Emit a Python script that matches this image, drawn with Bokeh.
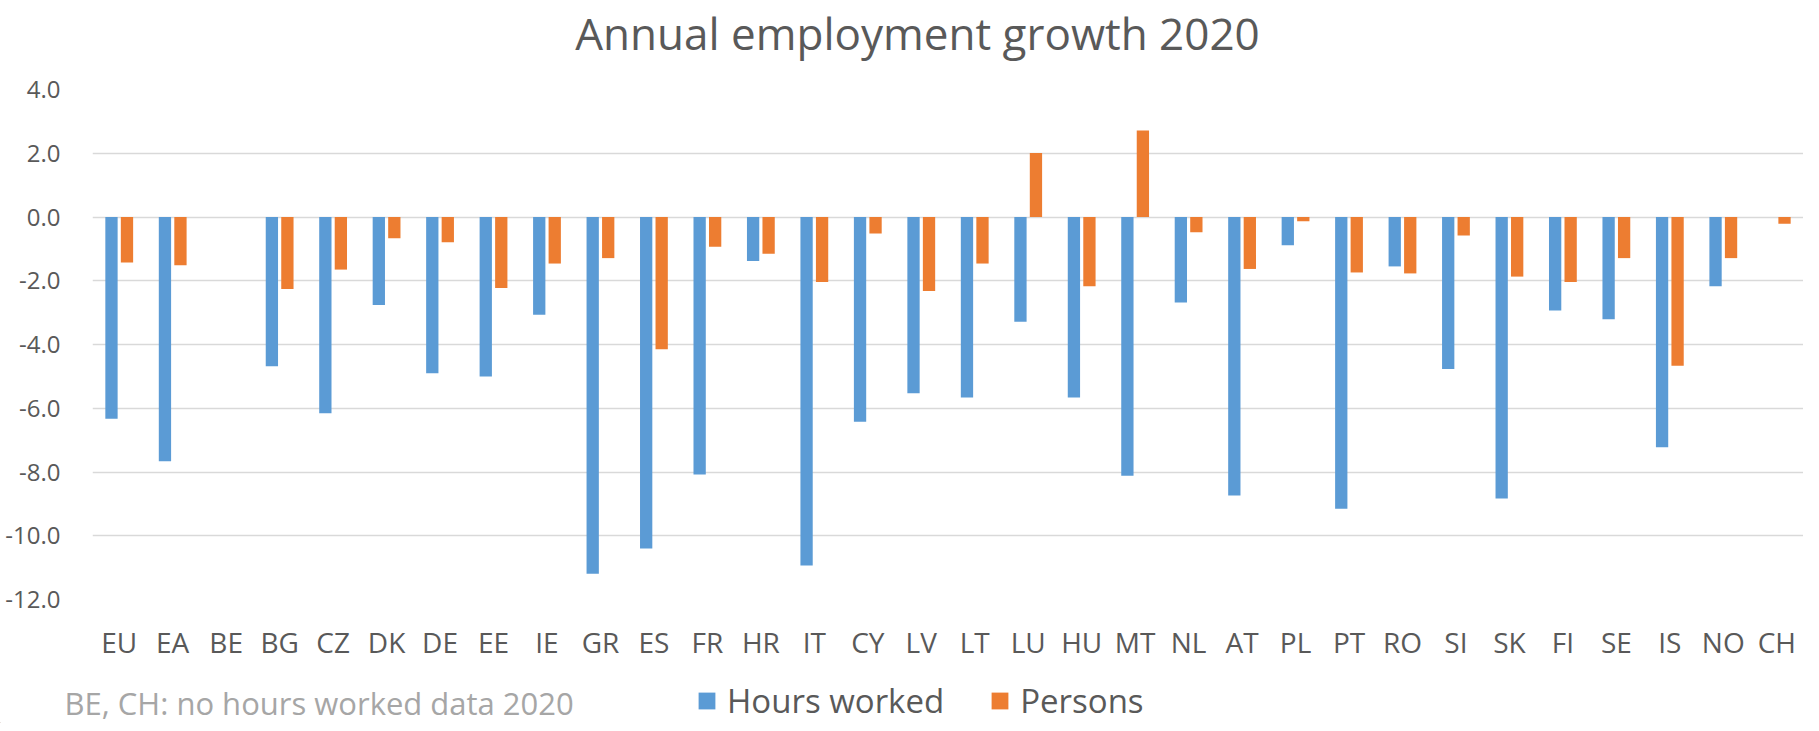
from bokeh.plotting import figure
from bokeh.layouts import column
from bokeh.models import (ColumnDataSource, FactorRange, Range1d, FixedTicker,
                          NumeralTickFormatter, Legend, Label)
from bokeh.transform import dodge
from bokeh.embed import file_html
from bokeh.resources import INLINE

nan = float("nan")

countries = ["EU", "EA", "BE", "BG", "CZ", "DK", "DE", "EE", "IE", "GR", "ES",
             "FR", "HR", "IT", "CY", "LV", "LT", "LU", "HU", "MT", "NL", "AT",
             "PL", "PT", "RO", "SI", "SK", "FI", "SE", "IS", "NO", "CH"]
hours_worked = [-6.33, -7.66, nan, -4.68, -6.16, -2.76, -4.90, -5.00, -3.07,
                -11.19, -10.40, -8.08, -1.38, -10.93, -6.42, -5.53, -5.66,
                -3.29, -5.66, -8.12, -2.68, -8.74, -0.89, -9.15, -1.55, -4.77,
                -8.83, -2.93, -3.21, -7.22, -2.17, nan]
persons = [-1.43, -1.51, nan, -2.26, -1.65, -0.67, -0.79, -2.23, -1.46, -1.29,
           -4.15, -0.93, -1.15, -2.04, -0.52, -2.32, -1.46, 2.01, -2.17, 2.71,
           -0.48, -1.63, -0.13, -1.74, -1.77, -0.58, -1.87, -2.04, -1.29,
           -4.67, -1.29, -0.21]
y_ticks = [4, 2, 0, -2, -4, -6, -8, -10, -12]
series_names = ["Hours worked", "Persons"]

title_text = "Annual employment growth 2020"
note_text = "BE, CH: no hours worked data 2020"

BLUE = "#5B9BD5"
ORANGE = "#ED7D31"
TXT = "#595959"
FONT = "Open Sans"
W = 1803


def blank(h):
    f = figure(width=W, height=h, x_range=Range1d(0, W), y_range=Range1d(0, h),
               output_backend="svg", toolbar_location=None, frame_align=False,
               min_border=0, min_border_left=0, min_border_right=0,
               min_border_top=0, min_border_bottom=0)
    f.title = None
    f.axis.visible = False
    f.grid.visible = False
    f.outline_line_color = None
    f.background_fill_color = "white"
    f.border_fill_color = "white"
    return f


# header with title
head = blank(70)
head.add_layout(Label(x=917, y=38, text=title_text, text_align="center",
                      text_baseline="middle", text_font=FONT,
                      text_font_size="44px", text_color=TXT))

# main chart
src = ColumnDataSource(dict(cat=countries, hw=hours_worked, pe=persons))
p = figure(width=W, height=600, x_range=FactorRange(*countries, range_padding=0),
           y_range=Range1d(-12, 4), output_backend="svg", toolbar_location=None,
           frame_align=False,
           min_border_left=92, min_border_right=0, min_border_top=19,
           min_border_bottom=71)
p.outline_line_color = None
p.background_fill_color = "white"
p.border_fill_color = "white"

r1 = p.vbar(x=dodge("cat", -0.145, range=p.x_range), top="hw", bottom=0,
            width=0.23, source=src, fill_color=BLUE, line_color=None)
r2 = p.vbar(x=dodge("cat", 0.145, range=p.x_range), top="pe", bottom=0,
            width=0.23, source=src, fill_color=ORANGE, line_color=None)

p.xgrid.grid_line_color = None
p.ygrid.grid_line_color = "#d9d9d9"
p.ygrid.grid_line_width = 1.5
p.yaxis.ticker = FixedTicker(ticks=y_ticks)
p.yaxis.formatter = NumeralTickFormatter(format="0.0")

for ax in (p.xaxis[0], p.yaxis[0]):
    ax.axis_line_color = None
    ax.major_tick_line_color = None
    ax.minor_tick_line_color = None
    ax.major_label_text_color = TXT
    ax.major_label_text_font = FONT
p.xaxis.major_label_text_font_size = "28px"
p.xaxis.major_label_standoff = 17
p.yaxis.major_label_text_font_size = "24px"
p.yaxis.major_label_standoff = 26

# footer with note and legend
foot = blank(53)
foot.add_layout(Label(x=64, y=21, text=note_text, text_align="left",
                      text_baseline="middle", text_font=FONT,
                      text_font_size="31px", text_color="#a6a6a6"))
d1 = foot.vbar(x=[-100], top=[1], width=1, fill_color=BLUE, line_color=None)
d2 = foot.vbar(x=[-100], top=[1], width=1, fill_color=ORANGE, line_color=None)
legend = Legend(items=[(series_names[0], [d1]), (series_names[1], [d2])],
                orientation="horizontal", location=(696, 0),
                glyph_width=21, glyph_height=21, label_standoff=10, spacing=45,
                padding=0, margin=0, border_line_color=None,
                background_fill_alpha=0, label_text_font=FONT,
                label_text_font_size="33px", label_text_color=TXT)
foot.add_layout(legend)

layout = column(head, p, foot, spacing=0)
open("out.html", "w").write(file_html(layout, INLINE))
